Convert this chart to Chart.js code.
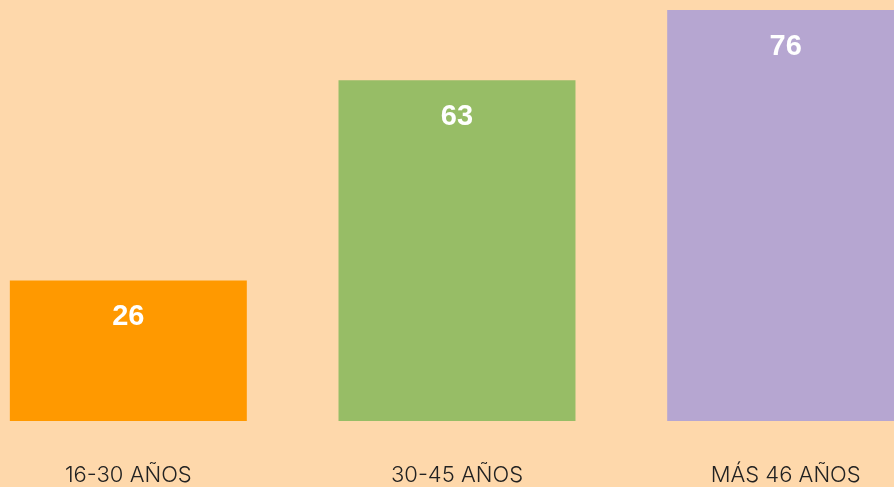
<!DOCTYPE html>
<html>
<head>
<meta charset="utf-8">
<script src="https://cdn.jsdelivr.net/npm/chart.js@4/dist/chart.umd.min.js"></script>
<style>
  html, body { margin: 0; padding: 0; background: #FED8AB; overflow: hidden; width: 894px; height: 487px; }
  #grafico { position: absolute; left: -36px; top: 0; }
</style>
</head>
<body>
<canvas id="grafico" width="986" height="487"></canvas>
<script>
const edades = ['16-30 AÑOS', '30-45 AÑOS', 'MÁS 46 AÑOS']
const valores = [26, 63, 76]
const colores = ['#FF9900', '#97BD66', '#B6A6D1']

// etiquetas blancas dentro de cada barra
const etiquetas = {
    id: 'etiquetas',
    afterDatasetsDraw(chart) {
        const ctx = chart.ctx
        const meta = chart.getDatasetMeta(0)
        ctx.save()
        ctx.fillStyle = '#FFFFFF'
        ctx.font = 'bold 29px "Liberation Sans", Arial, sans-serif'
        ctx.textAlign = 'center'
        ctx.textBaseline = 'middle'
        meta.data.forEach((bar, i) => {
            ctx.fillText(valores[i], bar.x, bar.y + 37)
        })
        ctx.restore()
    }
}

const ctx = document.getElementById('grafico').getContext('2d')
const grafico = new Chart(ctx, {
    type: 'bar',
    data: {
        labels: edades,
        datasets: [{
            data: valores,
            backgroundColor: colores,
            borderWidth: 0,
            barPercentage: 0.721,
            categoryPercentage: 1
        }]
    },
    options: {
        responsive: false,
        animation: false,
        layout: { padding: { top: 10, left: 0, right: 0, bottom: 0 } },
        plugins: {
            legend: { display: false },
            tooltip: { enabled: false }
        },
        scales: {
            x: {
                grid: { display: false, drawTicks: false },
                border: { display: false },
                afterFit(scale) {
                    scale.height = 66
                },
                ticks: {
                    color: '#222222',
                    padding: 41,
                    font: { family: 'Inter', size: 22, weight: 300 }
                }
            },
            y: {
                display: false,
                min: 0,
                max: 76
            }
        }
    },
    plugins: [etiquetas]
})
</script>
</body>
</html>
